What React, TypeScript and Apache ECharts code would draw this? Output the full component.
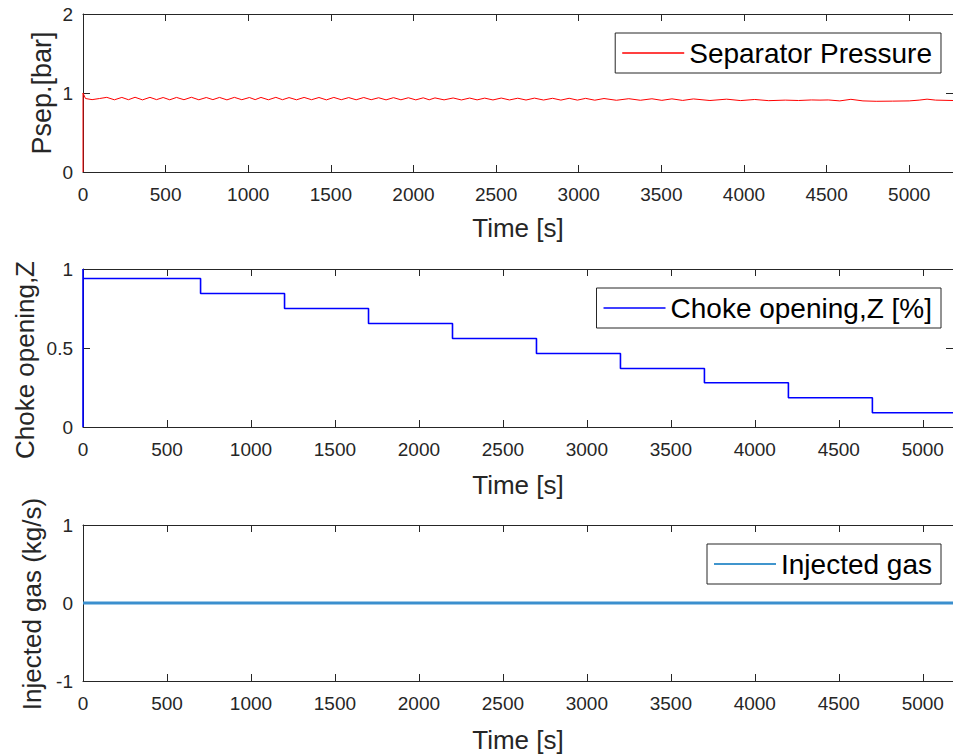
import React, { useEffect, useRef } from "react";
import * as echarts from "echarts";

// ---- Data ----
const psepTime = [0, 0, 15, 55, 100, 144, 190, 235, 275, 315, 360, 405, 445, 485, 525, 566, 611, 656, 701, 746, 786, 826, 871, 916, 961, 1007, 1042, 1077, 1122, 1167, 1207, 1247, 1292, 1338, 1383, 1428, 1473, 1518, 1563, 1608, 1653, 1699, 1744, 1789, 1834, 1879, 1924, 1969, 2014, 2059, 2095, 2130, 2185, 2240, 2290, 2340, 2385, 2431, 2481, 2531, 2581, 2631, 2681, 2732, 2787, 2842, 2892, 2942, 2992, 3042, 3097, 3153, 3228, 3303, 3373, 3443, 3503, 3564, 3629, 3694, 3794, 3895, 3980, 4065, 4150, 4250, 4330, 4408, 4460, 4510, 4580, 4647, 4720, 4800, 4900, 5000, 5060, 5108, 5160, 5265];
const psepValue = [0, 1.0, 0.93, 0.916, 0.93, 0.945, 0.914, 0.944, 0.915, 0.946, 0.913, 0.945, 0.916, 0.943, 0.914, 0.944, 0.915, 0.946, 0.914, 0.943, 0.916, 0.944, 0.913, 0.945, 0.915, 0.943, 0.916, 0.944, 0.914, 0.945, 0.915, 0.942, 0.914, 0.944, 0.915, 0.943, 0.913, 0.944, 0.915, 0.942, 0.914, 0.943, 0.915, 0.94, 0.913, 0.941, 0.914, 0.94, 0.913, 0.939, 0.914, 0.938, 0.913, 0.937, 0.912, 0.936, 0.913, 0.935, 0.912, 0.936, 0.912, 0.934, 0.911, 0.935, 0.911, 0.933, 0.91, 0.933, 0.91, 0.932, 0.909, 0.93, 0.908, 0.928, 0.908, 0.927, 0.907, 0.926, 0.906, 0.925, 0.905, 0.922, 0.904, 0.918, 0.903, 0.91, 0.905, 0.912, 0.91, 0.912, 0.9, 0.92, 0.9, 0.895, 0.897, 0.9, 0.91, 0.922, 0.91, 0.905];

const chokeTime = [0, 0, 0, 700, 1200, 1700, 2200, 2700, 3200, 3700, 4200, 4700, 5180];
const chokeValue = [0, 1.0, 0.94, 0.845, 0.75, 0.655, 0.56, 0.465, 0.37, 0.28, 0.185, 0.09, 0.09];

const gasTime = [0, 5180];
const gasValue = [0, 0];

const xMaxTop = 5265;
const xMaxRest = 5180;
const xTickStep = 500;

const yTicks1 = { min: 0, max: 2, interval: 1 };
const yTicks2 = { min: 0, max: 1, interval: 0.5 };
const yTicks3 = { min: -1, max: 1, interval: 1 };

const FONT = "'Liberation Sans', Arial, Helvetica, sans-serif";
const AX = "#262626";

const plainNum = (v: number) => String(v);

function xAxes(grid: number, max: number, gap: number) {
  const common = {
    type: "value",
    gridIndex: grid,
    min: 0,
    max,
    interval: xTickStep,
    splitLine: { show: false },
    axisLine: { show: true, onZero: false, lineStyle: { color: AX, width: 1 } },
    axisTick: { show: true, inside: true, length: 7, lineStyle: { color: AX, width: 1 } },
  };
  return [
    {
      ...common,
      position: "bottom",
      axisLabel: { show: true, fontSize: 19, color: AX, margin: 13, fontFamily: FONT, showMaxLabel: false, formatter: plainNum },
      name: "Time [s]",
      nameLocation: "middle",
      nameGap: gap,
      nameTextStyle: { fontSize: 26, color: AX, fontFamily: FONT },
    },
    { ...common, position: "top", axisLabel: { show: false } },
  ];
}

function yAxes(grid: number, t: { min: number; max: number; interval: number }) {
  const common = {
    type: "value",
    gridIndex: grid,
    min: t.min,
    max: t.max,
    interval: t.interval,
    splitLine: { show: false },
    axisLine: { show: true, onZero: false, lineStyle: { color: AX, width: 1 } },
    axisTick: { show: true, inside: true, length: 7, lineStyle: { color: AX, width: 1 } },
  };
  return [
    { ...common, position: "left", axisLabel: { show: true, fontSize: 19, color: AX, margin: 10, fontFamily: FONT, formatter: plainNum } },
    { ...common, position: "right", axisLabel: { show: false } },
  ];
}

function legendBox(name: string, top: number, color: string) {
  return {
    show: true,
    data: [{ name, icon: "rect", itemStyle: { color } }],
    right: 12,
    top,
    orient: "horizontal",
    itemWidth: 62,
    itemHeight: 1.5,
    padding: [6, 9, 6, 7],
    borderColor: AX,
    borderWidth: 1,
    backgroundColor: "#ffffff",
    textStyle: { fontSize: 28, color: "#000", fontFamily: FONT },
  };
}

function yName(text: string, x: number, y: number, size: number) {
  return {
    type: "text",
    x,
    y,
    rotation: Math.PI / 2,
    style: {
      text,
      fontSize: size,
      fontFamily: FONT,
      fill: AX,
      align: "center",
      verticalAlign: "middle",
      textAlign: "center",
      textVerticalAlign: "middle",
    },
  };
}

export default function App() {
  const ref = useRef<HTMLDivElement>(null);
  useEffect(() => {
    if (!ref.current) return;
    const chart = echarts.init(ref.current, null, { renderer: "svg" });
    const option: any = {
      animation: false,
      backgroundColor: "#ffffff",
      grid: [
        { left: 83, top: 14, width: 875, height: 158 },
        { left: 83, top: 269, width: 875, height: 158 },
        { left: 83, top: 525, width: 875, height: 156 },
      ],
      xAxis: [...xAxes(0, xMaxTop, 43), ...xAxes(1, xMaxRest, 45), ...xAxes(2, xMaxRest, 46)],
      yAxis: [...yAxes(0, yTicks1), ...yAxes(1, yTicks2), ...yAxes(2, yTicks3)],
      legend: [
        legendBox("Separator Pressure", 33, "#ff0000"),
        legendBox("Choke opening,Z [%]", 288, "#0000ff"),
        legendBox("Injected gas", 544, "#0072bd"),
      ],
      series: [
        {
          type: "line",
          name: "Separator Pressure",
          xAxisIndex: 0,
          yAxisIndex: 0,
          data: psepTime.map((t, i) => [t, psepValue[i]]),
          symbol: "none",
          clip: false,
          lineStyle: { color: "#ff0000", width: 1 },
          itemStyle: { color: "#ff0000" },
        },
        {
          type: "line",
          name: "Choke opening,Z [%]",
          xAxisIndex: 2,
          yAxisIndex: 2,
          step: "end",
          data: chokeTime.map((t, i) => [t, chokeValue[i]]),
          symbol: "none",
          clip: false,
          lineStyle: { color: "#0000ff", width: 1.6 },
          itemStyle: { color: "#0000ff" },
        },
        {
          type: "line",
          name: "Injected gas",
          xAxisIndex: 4,
          yAxisIndex: 4,
          data: gasTime.map((t, i) => [t, gasValue[i]]),
          symbol: "none",
          clip: false,
          lineStyle: { color: "#3b8fce", width: 3 },
          itemStyle: { color: "#0072bd" },
        },
      ],
      graphic: [
        yName("Psep.[bar]", 42, 93, 27),
        yName("Choke opening,Z", 25, 360, 26),
        yName("Injected gas (kg/s)", 32, 604, 26),
      ],
    };
    chart.setOption(option);
    return () => chart.dispose();
  }, []);
  return (
    <div
      ref={ref}
      style={{ position: "absolute", left: 0, top: 0, width: 953, height: 754, background: "#fff" }}
    />
  );
}
